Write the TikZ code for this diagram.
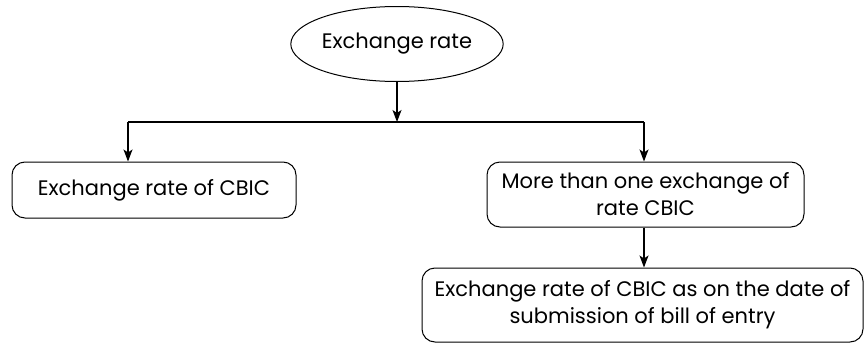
\documentclass[tikz,border=0pt]{standalone}
\usepackage{fontspec}
\setmainfont{Poppins}
\usetikzlibrary{shapes.geometric,arrows.meta}
\begin{document}
\begin{tikzpicture}[x=1pt,y=-1pt, line width=1pt,
 box/.style={draw, rounded corners=13pt, align=center, inner sep=0pt},
 arr/.style={line width=1.2pt,-{Stealth[length=12pt,width=9pt,inset=3pt]}},
 font=\fontsize{21}{27}\selectfont]
\useasboundingbox (0,0) rectangle (865,343);
\node[draw, ellipse, minimum width=203pt, minimum height=75pt, inner sep=0pt] (top) at (397,44) {Exchange rate};
\node[box, minimum width=284pt, minimum height=56pt] (left) at (154,190) {Exchange rate of CBIC};
\node[box, minimum width=317pt, minimum height=65pt] (right) at (645.5,194.5) {More than one exchange of\\rate CBIC};
\node[box, minimum width=441pt, minimum height=74pt] (bot) at (642.5,305) {Exchange rate of CBIC as on the date of\\submission of bill of entry};
\coordinate (j) at (397,122);
\coordinate (jl) at (128,122);
\coordinate (jr) at (644,122);
\draw[arr] (top) -- (j);
\draw[line width=1.2pt] (jl) -- (jr);
\draw[arr] (jl) -- (jl |- left.north);
\draw[arr] (jr) -- (jr |- right.north);
\draw[arr] (right.south -| jr) -- (jr |- bot.north);
\end{tikzpicture}
\end{document}
